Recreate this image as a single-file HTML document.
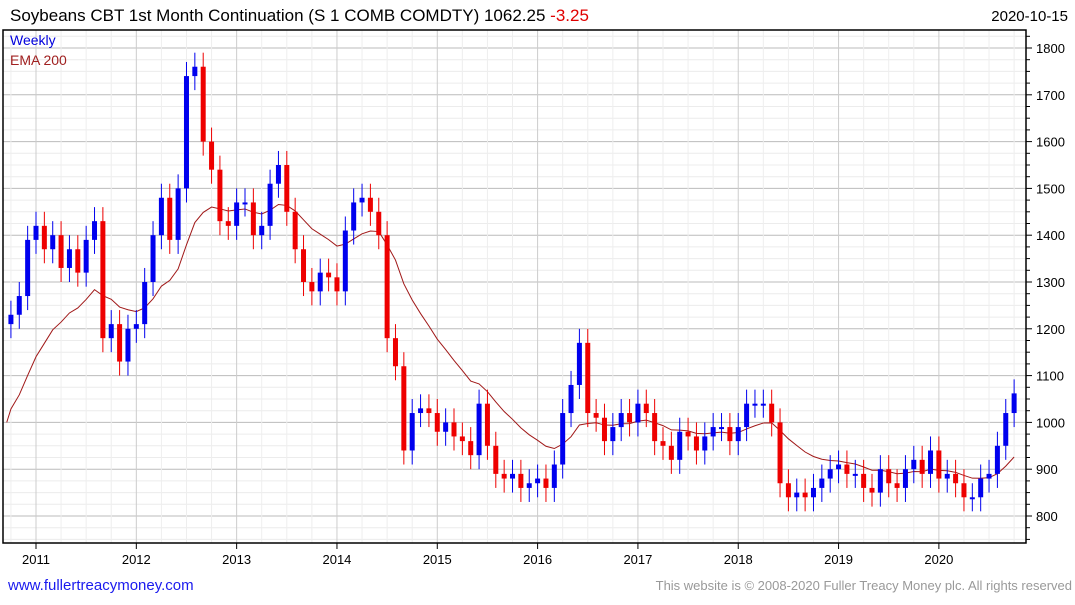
<!DOCTYPE html>
<html><head><meta charset="utf-8"><style>
body{margin:0;background:#fff;font-family:"Liberation Sans",sans-serif;}
</style></head><body>
<svg id="c" width="1075" height="600" xmlns="http://www.w3.org/2000/svg">
<rect width="1075" height="600" fill="#fff"/>
<text x="10" y="21" font-size="17" fill="#000" font-family="Liberation Sans">Soybeans CBT 1st Month Continuation (S 1 COMB COMDTY) 1062.25 <tspan fill="#e00000">-3.25</tspan></text>
<text x="1068" y="21" font-size="15" text-anchor="end" font-family="Liberation Sans">2020-10-15</text>
<g id="grid"></g>
<g id="ema"></g>
<g id="bars"></g>
<rect x="3" y="30" width="1023" height="513" fill="none" stroke="#000" stroke-width="1.5"/>
<g id="axes"></g>
<text x="10" y="45" font-size="14" fill="#0000dd" font-family="Liberation Sans">Weekly</text>
<text x="10" y="65" font-size="14" fill="#a02020" font-family="Liberation Sans">EMA 200</text>
<text x="8" y="590" font-size="15" fill="#1a1aee" font-family="Liberation Sans">www.fullertreacymoney.com</text>
<text x="1072" y="590" font-size="13" fill="#999" text-anchor="end" font-family="Liberation Sans">This website is © 2008-2020 Fuller Treacy Money plc. All rights reserved</text>
</svg>
<script>
// monthly closes Oct 2010 .. Oct 2020
const startMonth = -3; // months relative to Jan 2011
const closes = [1230,1270,1390,
1420,1370,1400,1330,1370,1320,1390,1430,1180,1210,1130,1200,
1210,1300,1400,1480,1390,1500,1740,1760,1600,1540,1430,1420,
1470,1470,1400,1420,1510,1550,1450,1370,1300,1280,1320,1310,
1280,1410,1470,1480,1450,1400,1180,1120,940,1020,1030,1020,
980,1000,970,960,930,1040,950,890,880,890,860,870,
880,860,910,1020,1080,1170,1020,1010,960,990,1020,1000,
1040,1020,960,950,920,980,970,940,970,990,990,960,
990,1040,1040,1040,1000,870,840,850,840,860,880,900,
910,890,890,860,850,900,870,860,900,920,890,940,
880,890,870,840,840,880,890,950,1020,1062];
const yearLabels = ["2011","2012","2013","2014","2015","2016","2017","2018","2019","2020"];
const priceTicks = [800,900,1000,1100,1200,1300,1400,1500,1600,1700,1800];
const emaSeed = 1000;
const emaPeriodMonths = 15;

const NS="http://www.w3.org/2000/svg";
const X0=36, PX_MONTH=8.36, Y800=516, PX_PRICE=0.468;
const xm=m=>X0+m*PX_MONTH;
const yp=p=>Y800-(p-800)*PX_PRICE;
function mk(tag,attrs,parent){const e=document.createElementNS(NS,tag);for(const k in attrs)e.setAttribute(k,attrs[k]);parent.appendChild(e);return e;}
const grid=document.getElementById('grid'),axes=document.getElementById('axes'),bars=document.getElementById('bars'),emaG=document.getElementById('ema');
for(let p=750;p<=1825;p+=25){const y=yp(p);if(y<31||y>542)continue;
 const major=p%100===0;
 const l=mk('line',{x1:3,x2:1026,y1:y,y2:y,stroke:major?'#bbb':'#ececec','stroke-width':1},grid);
 
 
 const t=mk('line',{x1:1026,x2:major?1032:1030,y1:y,y2:y,stroke:'#000'},axes);
 
 }
for(let m=-3;m<=120;m+=3){const x=xm(m);if(x<4||x>1025)continue;const yr=m%12===0;
 const l=mk('line',{x1:x,x2:x,y1:30,y2:543,stroke:yr?'#ccc':'#eee'},grid);
 
 }
priceTicks.forEach(p=>{const t=mk('text',{x:1036,y:yp(p)+5,'font-size':13,'font-family':'Liberation Sans'},axes);t.textContent=p;
 
 });
yearLabels.forEach((s,i)=>{const x=xm(i*12);
 mk('line',{x1:x,x2:x,y1:543,y2:549,stroke:'#000'},axes);
 const t=mk('text',{x:x,y:564,'font-size':13,'text-anchor':'middle','font-family':'Liberation Sans'},axes);t.textContent=s;
 
 });
let prev=closes[0]-20;
closes.forEach((c,i)=>{const m=startMonth+i,x=xm(m),o=prev;
 const up=c>=o,col=up?'#0000ee':'#ee0000';
 const hi=Math.max(o,c)+30,lo=Math.min(o,c)-30;
 const w=mk('line',{x1:x,x2:x,y1:yp(hi),y2:yp(lo),stroke:col,'stroke-width':1},bars);
 
 
 const top=yp(Math.max(o,c)),h=Math.max(2,yp(Math.min(o,c))-top);
 const r=mk('rect',{x:x-2.5,y:top,width:5,height:h,fill:col},bars);
 
 
 prev=c;});
let e=emaSeed;const k=2/(emaPeriodMonths+1);const pts=[xm(startMonth-0.5)+','+yp(emaSeed)];
closes.forEach((c,i)=>{e=e+(c-e)*k;pts.push(xm(startMonth+i)+','+yp(e));});
const pl=mk('polyline',{points:pts.join(' '),fill:'none',stroke:'#a01818','stroke-width':1},emaG);


</script>
</body></html>
